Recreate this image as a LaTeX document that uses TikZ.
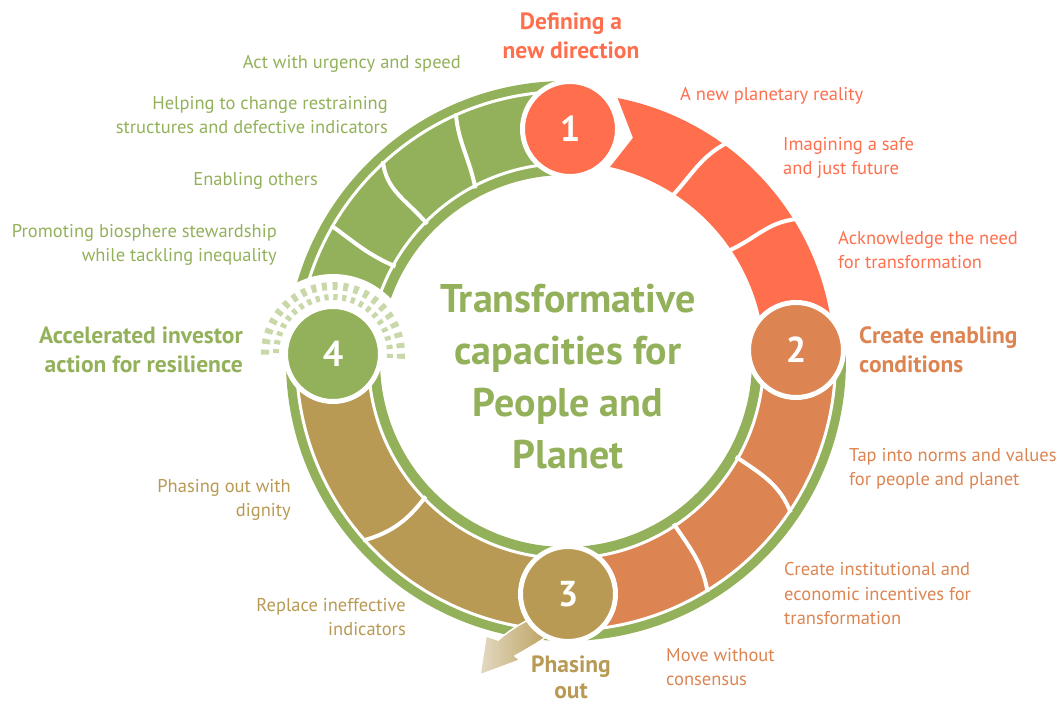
\documentclass[tikz,border=0pt]{standalone}
\usepackage{fontspec}
\setmainfont{PT Sans}
\definecolor{capred}{HTML}{FF6F4E}
\definecolor{caporange}{HTML}{DC8552}
\definecolor{capbrown}{HTML}{B89A55}
\definecolor{capgreen}{HTML}{93B15A}
\definecolor{raygreen}{HTML}{C8D8A8}
\definecolor{fadebrown}{HTML}{E3DAC2}
\tikzstyle{num}=[circle,draw=white,line width=5pt,minimum size=95pt,inner sep=0pt,text=white,font=\fontsize{36}{36}\selectfont\bfseries]
\tikzstyle{lbl}=[inner sep=0pt,font=\fontsize{18.5}{24.5}\selectfont]
\tikzstyle{head}=[inner sep=0pt,font=\fontsize{23.5}{29.5}\selectfont\bfseries]
\tikzstyle{band}=[draw=white,line width=3pt]
\tikzstyle{divider}=[white,line width=4pt]

\begin{document}
\begin{tikzpicture}[x=1pt,y=1pt]
\useasboundingbox (-566,-343) rectangle (490,361);
\coordinate (c1) at (4,232);
\coordinate (c2) at (230,11);
\coordinate (c3) at (2,-233);
\coordinate (c4) at (-233,7);

\fill[capgreen] (89:280) arc[start angle=89,end angle=362.74,radius=280] -- (362.74:186) arc[start angle=362.74,end angle=89,radius=186] -- cycle;
\filldraw[band,fill=capgreen] (178.3:269.5) arc[start angle=178.3,end angle=89,radius=269.5] -- (89:197.5) arc[start angle=89,end angle=178.3,radius=197.5] -- cycle;
\filldraw[band,fill=capbrown] (270.5:269.5) arc[start angle=270.5,end angle=178.3,radius=269.5] -- (178.3:197.5) arc[start angle=178.3,end angle=270.5,radius=197.5] -- cycle;
\filldraw[band,fill=caporange] (2.74:269.5) arc[start angle=2.74,end angle=-89.5,radius=269.5] -- (-89.5:197.5) arc[start angle=-89.5,end angle=2.74,radius=197.5] -- cycle;
\fill[capred] (78.9:268) arc[start angle=78.9,end angle=2.74,radius=268] -- (2.74:199) arc[start angle=2.74,end angle=77.2,radius=199] -- (73.3:233) -- cycle;

\draw[divider] (53.7:270) to[out=208.7,in=47.2] (57.2:197);
\draw[divider] (31.7:270) to[out=186.7,in=24.1] (34.1:197);
\draw[divider] (-34:271) to[out=111,in=-34.4] (-29.4:195);
\draw[divider] (-58.5:271) to[out=99.5,in=-56.5] (-56.5:195);
\draw[divider] (221.5:271) to[out=15.5,in=233] (224:195);
\draw[divider] (114:271) to[out=275,in=100.7] (117.7:195);
\draw[divider] (132.5:271) to[out=275.5,in=129.4] (135.4:195);
\draw[divider] (150:271) to[out=324,in=157] (151:195);

\draw[white,line width=1.5pt,left color=fadebrown,right color=capbrown] (-10,-268) .. controls (-25,-280) .. (-51,-295) -- (-46,-299) -- (-86,-314) -- (-80,-275) -- (-68,-279) .. controls (-50,-265) .. (-20,-250) -- cycle;

\fill[white] (c4) ++(-6:80) arc[start angle=-6,end angle=186,radius=80] -- cycle;
\draw[raygreen,line width=8pt,dash pattern=on 5pt off 5.7pt] (c4) ++(-4:68) arc[start angle=-4,end angle=184,radius=68];
\draw[raygreen,line width=6pt,dash pattern=on 4.2pt off 4.7pt] (c4) ++(-4:57) arc[start angle=-4,end angle=184,radius=57];

\node[num,fill=capred] (one) at (c1) {1};
\node[num,fill=caporange] (two) at (c2) {2};
\node[num,fill=capbrown] (three) at (c3) {3};
\node[num,fill=capgreen] (four) at (c4) {4};

\node[inner sep=0pt,align=center,text=capgreen,font=\fontsize{40}{52}\selectfont\bfseries] (title) at (2,-16) {Transformative\\capacities for\\People and\\Planet};

\node[head,align=center,text=capred] (defining) at (5,325) {Defining a\\new direction};
\node[lbl,align=left,anchor=west,text=capred] (reality) at (114,265) {A new planetary reality};
\node[lbl,align=left,anchor=west,text=capred] (imagining) at (217,203) {Imagining a safe\\and just future};
\node[lbl,align=left,anchor=west,text=capred] (acknowledge) at (272,111) {Acknowledge the need\\for transformation};

\node[head,align=left,anchor=west,text=caporange] (enabling) at (293,11) {Create enabling\\conditions};
\node[lbl,align=left,anchor=west,text=caporange] (norms) at (283,-108) {Tap into norms and values\\for people and planet};
\node[lbl,align=left,anchor=west,text=caporange] (incentives) at (218,-233) {Create institutional and\\economic incentives for\\transformation};
\node[lbl,align=left,anchor=west,text=caporange] (consensus) at (100,-306) {Move without\\consensus};

\node[head,align=center,text=capbrown,font=\fontsize{23.5}{26}\selectfont\bfseries] (phasing) at (5,-316) {Phasing\\out};
\node[lbl,align=right,anchor=east,text=capbrown] (dignity) at (-275,-139) {Phasing out with\\dignity};
\node[lbl,align=right,anchor=east,text=capbrown] (replace) at (-160,-256) {Replace ineffective\\indicators};

\node[head,align=right,anchor=east,text=capgreen] (investor) at (-323,11) {Accelerated investor\\action for resilience};
\node[lbl,align=right,anchor=east,text=capgreen] (stewardship) at (-289,116) {Promoting biosphere stewardship\\while tackling inequality};
\node[lbl,align=right,anchor=east,text=capgreen] (others) at (-248,180) {Enabling others};
\node[lbl,align=right,anchor=east,text=capgreen] (structures) at (-178,246) {Helping to change restraining\\structures and defective indicators};
\node[lbl,align=right,anchor=east,text=capgreen] (urgency) at (-105,297) {Act with urgency and speed};
\end{tikzpicture}
\end{document}
